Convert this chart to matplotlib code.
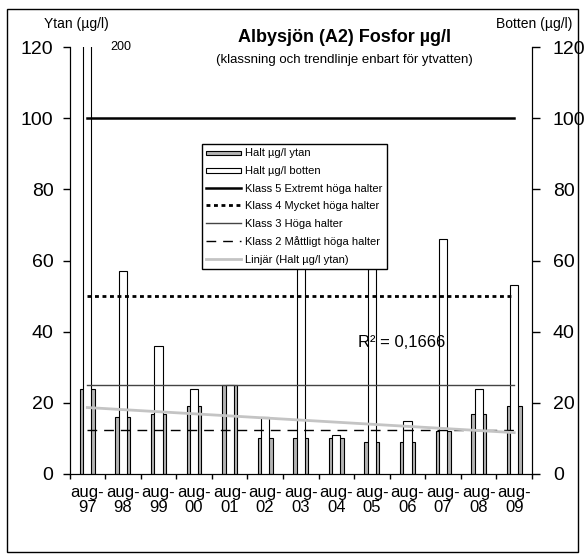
import numpy as np
import matplotlib
matplotlib.use('Agg')
import matplotlib.pyplot as plt
from matplotlib.patches import Rectangle, Patch
from matplotlib.lines import Line2D
from matplotlib.legend_handler import HandlerPatch

plt.rcParams['font.family'] = ['Liberation Sans', 'DejaVu Sans']

# %% data
years = ['97', '98', '99', '00', '01', '02', '03', '04', '05', '06', '07', '08', '09']
tick_labels = ['aug-\n' + y for y in years]
ytan = [24, 16, 17, 19, 25, 10, 10, 10, 9, 9, 12, 17, 19]
botten = [200, 57, 36, 24, 25, 16, 85, 11, 78, 15, 66, 24, 53]
klass_names = ['Klass 5 Extremt höga halter', 'Klass 4 Mycket höga halter',
               'Klass 3 Höga halter', 'Klass 2 Måttligt höga halter']
klass_values = [100, 50, 25, 12.5]

W, H = 584, 556
fig = plt.figure(figsize=(W / 100, H / 100), dpi=100)
ax = fig.add_axes([69.5 / W, (H - 474) / H, 462.5 / W, 427 / H])
x = np.arange(len(years))

# surface values on the left axis, bottom values on the right axis
ax.bar(x, ytan, width=0.42, color='#b4b4b4', edgecolor='black', linewidth=0.8)
ax2 = ax.twinx()
ax2.bar(x, botten, width=0.23, color='white', edgecolor='black', linewidth=0.8)

# class limits drawn from first to last category
styles = [dict(color='black', lw=1.8, ls='-'),
          dict(color='black', lw=2.0, ls=(0, (1.4, 1.3))),
          dict(color='#444444', lw=1.0, ls='-'),
          dict(color='black', lw=1.0, ls=(0, (7, 5)))]
handles = [Patch(fc='#b4b4b4', ec='black', lw=0.8), Patch(fc='white', ec='black', lw=0.8)]
for name, val, st in zip(klass_names, klass_values, styles):
    line, = ax2.plot([x[0], x[-1]], [val, val], **st)
    handles.append(line)

# linear trend for the surface water
coef = np.polyfit(x, ytan, 1)
fit = np.polyval(coef, x)
r2 = 1 - np.sum((np.array(ytan) - fit) ** 2) / np.sum((np.array(ytan) - np.mean(ytan)) ** 2)
trend, = ax2.plot(x, fit, color='#c4c4c4', lw=2)
handles.append(trend)
ax2.text(8.84, 37, f'R² = {r2:.4f}'.replace('.', ','), fontsize=12, ha='center', va='center')
ax2.text(0.95, 120, str(botten[0]), fontsize=9, ha='center', va='center')

for a in (ax, ax2):
    a.set_ylim(0, 120)
    a.set_yticks(range(0, 121, 20))
    a.spines['top'].set_visible(False)
    a.set_facecolor('none')
ax.set_xlim(-0.5, len(years) - 0.5)
ax.tick_params(axis='y', direction='out', length=5, width=1, pad=6.5, labelsize=14)
ax2.tick_params(axis='y', direction='out', length=6, width=1, pad=9, labelsize=14)
ax.set_xticks(np.arange(-0.5, len(years)), [])
ax.set_xticks(x, tick_labels, minor=True)
ax.tick_params(axis='x', which='major', direction='out', length=3.6, width=1)
ax.tick_params(axis='x', which='minor', length=0, pad=8, labelsize=12)
for lab in ax.get_xticklabels(minor=True):
    lab.set_linespacing(1.0)

labels = ['Halt µg/l ytan', 'Halt µg/l botten'] + klass_names + ['Linjär (Halt µg/l ytan)']


def thin_patch(legend, orig_handle, xdescent, ydescent, width, height, fontsize):
    return Rectangle((-xdescent, -ydescent + height * 0.15), width, height * 0.6)


leg = fig.legend(handles, labels, loc='upper left', bbox_to_anchor=(202 / W, 1 - 144 / H),
                 bbox_transform=fig.transFigure, borderaxespad=0, fancybox=False,
                 edgecolor='black', framealpha=1, fontsize=8, handlelength=3.15,
                 handletextpad=0.35, labelspacing=0.68, borderpad=0.4,
                 handler_map={Patch: HandlerPatch(patch_func=thin_patch)})
leg.get_frame().set_linewidth(1)

fig.text(344 / W, 1 - 37 / H, 'Albysjön (A2) Fosfor µg/l', fontsize=13, fontweight='bold',
         ha='center', va='center')
fig.text(344 / W, 1 - 60 / H, '(klassning och trendlinje enbart för ytvatten)', fontsize=9.5,
         ha='center', va='center')
fig.text(76 / W, 1 - 24 / H, 'Ytan (µg/l)', fontsize=10, ha='center', va='center')
fig.text(534 / W, 1 - 24 / H, 'Botten (µg/l)', fontsize=10, ha='center', va='center')

fig.patches.append(Rectangle((7 / W, 4 / H), 571 / W, 543 / H, transform=fig.transFigure,
                             fill=False, ec='black', lw=1))

fig.savefig('out.png', dpi=100)
